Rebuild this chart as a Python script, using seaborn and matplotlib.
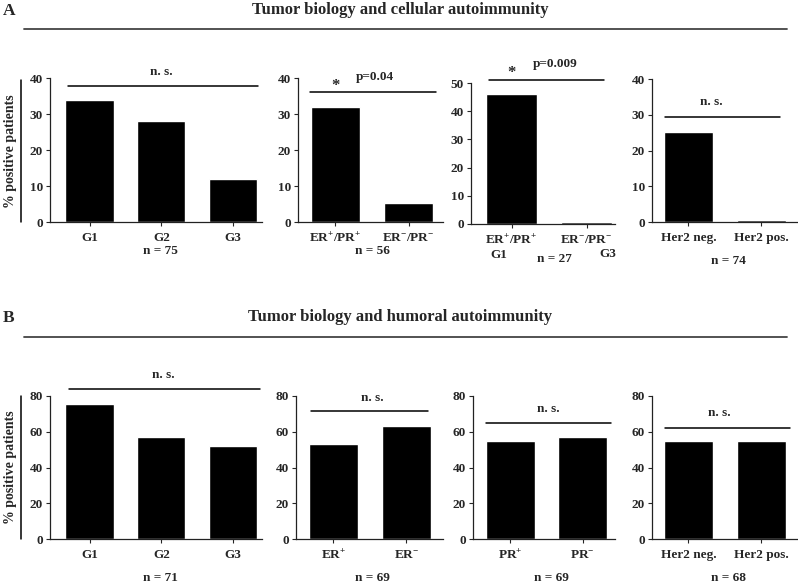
import numpy as np
import matplotlib
matplotlib.use("Agg")
import matplotlib.pyplot as plt
import matplotlib.transforms as mtransforms
from matplotlib.lines import Line2D
import seaborn as sns

sns.set_style("ticks")
plt.rcParams['font.family'] = ['Liberation Serif', 'DejaVu Serif']
plt.rcParams['font.weight'] = 'bold'
plt.rcParams['font.size'] = 9.5
plt.rcParams['mathtext.fontset'] = 'custom'
plt.rcParams['mathtext.rm'] = 'Liberation Serif:bold'
plt.rcParams['mathtext.bf'] = 'Liberation Serif:bold'
plt.rcParams['mathtext.default'] = 'rm'

# data -------------------------------------------------------------
grade_cats = ["G1", "G2", "G3"]
erpr_cats = ["ER$^{+}$/PR$^{+}$", "ER$^{-}$/PR$^{-}$"]
her2_cats = ["Her2 neg.", "Her2 pos."]
er_cats = ["ER$^{+}$", "ER$^{-}$"]
pr_cats = ["PR$^{+}$", "PR$^{-}$"]

cell_grade = [34, 28, 12]
cell_erpr = [32, 5.3]
cell_erpr_g = [46, 0.7]
cell_her2 = [25.3, 0.6]

hum_grade = [75.3, 57.2, 52.1]
hum_er = [52.9, 63.1]
hum_pr = [54.6, 57.2]
hum_her2 = [54.6, 54.6]

n_cell = ["n = 75", "n = 56", "n = 27", "n = 74"]
n_hum = ["n = 71", "n = 69", "n = 69", "n = 68"]

W, H = 798, 584
fig = plt.figure(figsize=(W / 100, H / 100), dpi=100)


def px(x0, y0, x1, y1):
    return [x0 / W, 1 - y1 / H, (x1 - x0) / W, (y1 - y0) / H]


def panel(box, cats, vals, ymax, ystep, xlim, nlab, nxy, sig, texts):
    ax = fig.add_axes(px(*box))
    sns.barplot(x=cats, y=vals, color="black", saturation=1, width=0.67, ax=ax)
    ax.set_xlim(*xlim)
    ax.set_ylim(0, ymax)
    ax.set_yticks(np.arange(0, ymax + 1, ystep))
    sns.despine(ax=ax)
    for s in ["left", "bottom"]:
        ax.spines[s].set_linewidth(0.9)
        ax.spines[s].set_color("#222222")
    ax.tick_params(axis="y", length=3, width=0.8, pad=2, labelsize=9.5)
    ax.tick_params(axis="x", length=3, width=0.8, pad=4, labelsize=9.5)
    ax.set_xlabel(nlab, fontsize=9.5, fontweight="bold")
    ax.xaxis.set_label_coords(*nxy)
    # significance bar + text
    x0, x1, y = sig
    ax.plot([x0, x1], [y, y], color="black", lw=1.1, clip_on=False)
    for tx, ty, t, fs in texts:
        ax.text(tx, ty, t, ha="center", va="center", fontsize=fs,
                fontweight="bold", clip_on=False)
    return ax


# row A : cellular
panel((50, 78, 262, 222), grade_cats, cell_grade, 40, 10, (-0.55, 2.4),
      n_cell[0], (0.52, -0.16), (-0.3, 2.35, 37.8), [(1.0, 41.8, "n. s.", 9.5)])
panel((298, 78, 443, 222), erpr_cats, cell_erpr, 40, 10, (-0.51, 1.47),
      n_cell[1], (0.51, -0.16), (-0.34, 1.38, 36.1),
      [(0.0, 37.8, "*", 12), (0.54, 40.2, "p=0.04", 9.5)])
ax3 = panel((471, 83, 615, 224), erpr_cats, cell_erpr_g, 50, 10, (-0.54, 1.38),
            n_cell[2], (0.58, -0.205), (-0.3, 1.23, 51.1),
            [(0.0, 53.6, "*", 12), (0.58, 56.6, "p=0.009", 9.5)])
tr = mtransforms.blended_transform_factory(ax3.transData, ax3.transAxes)
ax3.text(-0.17, -0.22, "G1", transform=tr, ha="center", va="center",
         fontsize=9.5, fontweight="bold")
ax3.text(1.29, -0.21, "G3", transform=tr, ha="center", va="center",
         fontsize=9.5, fontweight="bold")
panel((652, 79, 797, 222), her2_cats, cell_her2, 40, 10, (-0.5, 1.49),
      n_cell[3], (0.53, -0.23), (-0.32, 1.26, 29.4), [(0.32, 33.6, "n. s.", 9.5)])

# row B : humoral
panel((50, 396, 262, 539), grade_cats, hum_grade, 80, 20, (-0.55, 2.4),
      n_hum[0], (0.52, -0.23), (-0.28, 2.37, 83.9), [(1.02, 91.6, "n. s.", 9.5)])
panel((296, 396, 443, 539), er_cats, hum_er, 80, 20, (-0.51, 1.5),
      n_hum[1], (0.52, -0.23), (-0.3, 1.3, 71.5), [(0.53, 78.8, "n. s.", 9.5)])
panel((473, 396, 615, 539), pr_cats, hum_pr, 80, 20, (-0.52, 1.45),
      n_hum[2], (0.55, -0.23), (-0.34, 1.4, 64.8), [(0.52, 72.6, "n. s.", 9.5)])
panel((652, 396, 797, 539), her2_cats, hum_her2, 80, 20, (-0.5, 1.49),
      n_hum[3], (0.53, -0.23), (-0.32, 1.4, 62.0), [(0.43, 70.4, "n. s.", 9.5)])

# titles, panel letters, rules, y labels
for ty, ly, title, letter, yl0, yl1 in [
        (10, 29, "Tumor biology and cellular autoimmunity", "A", 80, 222),
        (317, 337, "Tumor biology and humoral autoimmunity", "B", 396, 539)]:
    fig.text(400 / W, 1 - ty / H, title, ha="center", va="center",
             fontsize=12, fontweight="bold")
    fig.text(9 / W, 1 - (ty + 1) / H, letter, ha="center", va="center",
             fontsize=12.5, fontweight="bold")
    fig.add_artist(Line2D([24 / W, 787 / W], [1 - ly / H, 1 - ly / H],
                          color="#444444", lw=1.3))
    fig.add_artist(Line2D([21 / W, 21 / W], [1 - yl0 / H, 1 - yl1 / H],
                          color="black", lw=1.1))
    fig.text(11 / W, 1 - (yl0 + yl1) / 2 / H, "% positive patients",
             rotation=90, ha="center", va="center", fontsize=10,
             fontweight="bold")

fig.savefig("out.png", dpi=100)
